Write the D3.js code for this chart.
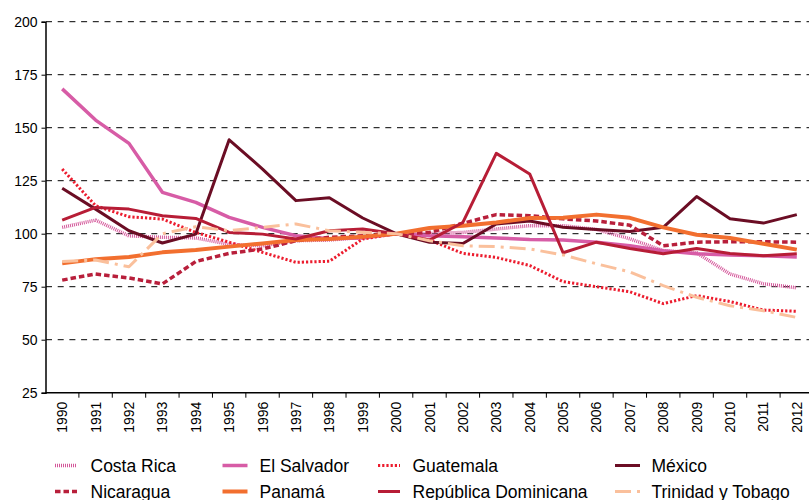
<!DOCTYPE html>
<html>
<head>
<meta charset="utf-8">
<script src="https://cdn.jsdelivr.net/npm/d3@7/dist/d3.min.js"></script>
<style>
  html, body { margin: 0; padding: 0; background: #fff; }
  svg { display: block; font-family: "Liberation Sans", Arial, sans-serif; }
</style>
</head>
<body>
<svg id="chart" width="809" height="500"></svg>
<script>
const years = ["1990","1991","1992","1993","1994","1995","1996","1997","1998","1999","2000","2001","2002","2003","2004","2005","2006","2007","2008","2009","2010","2011","2012"];
const yTicks = [25, 50, 75, 100, 125, 150, 175, 200];

const costaRica  = [103, 106.4, 99, 98.3, 98, 95, 94.3, 96.7, 97, 98.3, 100, 100.1, 100.6, 102.2, 103.8, 103.8, 102, 97.6, 92, 91, 81, 76.4, 74.5];
const elSalvador = [168.3, 153.6, 142.6, 119.5, 114.8, 107.7, 103, 99, 97.6, 98, 100, 99, 98.6, 98, 97.3, 97, 96, 94.3, 92, 90.5, 90, 89.6, 89];
const guatemala  = [130.5, 113.2, 108, 106.9, 100.6, 96, 91.2, 86.5, 87, 97.5, 100, 97, 90.7, 88.8, 85, 77.4, 75, 72.6, 67, 70.8, 68, 64, 63.4];
const mexico     = [121.4, 111.6, 101.4, 95.6, 99.8, 144.3, 130.5, 115.6, 117, 107.4, 100, 96, 95.4, 104.6, 106, 103, 102, 101, 103, 117.5, 107, 105, 109];
const nicaragua  = [78.1, 81, 79.1, 76.3, 86.9, 90.7, 92.8, 96.7, 98.3, 99, 100, 100.6, 104.9, 109, 108.5, 107, 106, 104, 94.3, 96, 96.2, 96.2, 96];
const panama     = [86, 88, 89, 91.2, 92.3, 93.9, 95.4, 97, 97.5, 98.6, 100, 102.7, 103.8, 105.3, 107.4, 107.5, 109, 107.5, 103, 99.5, 98, 95.3, 92.5];
const repDom     = [106.4, 112.4, 111.6, 108.5, 107.2, 100.6, 99.8, 97.5, 101.4, 102.2, 100, 97, 105.3, 137.9, 128.2, 91, 96, 93, 90.5, 93, 90.7, 89.6, 90.5];
const trinidad   = [86.9, 87.6, 84.4, 100, 103.3, 101.4, 103, 104.6, 101.4, 100.6, 100, 96.7, 94.3, 93.9, 92.8, 90, 85.8, 82, 75.5, 70, 66, 63.7, 60.5];

const seriesNames = ["Costa Rica","El Salvador","Guatemala","México","Nicaragua","Panamá","República Dominicana","Trinidad y Tobago"];
const seriesValues = [costaRica, elSalvador, guatemala, mexico, nicaragua, panama, repDom, trinidad];

const styles = {
  "Costa Rica":           {color: "#d4579a", width: 3.5, dash: "1,1",          cap: "butt"},
  "El Salvador":          {color: "#d75ca6", width: 3.5, dash: null,           cap: "butt"},
  "Guatemala":            {color: "#ec1c2e", width: 3,   dash: "2.2,2",        cap: "butt"},
  "México":               {color: "#6b0d24", width: 3,   dash: null,           cap: "butt"},
  "Nicaragua":            {color: "#b81f3b", width: 3.5, dash: "5.5,3",        cap: "butt"},
  "Panamá":               {color: "#f26f2f", width: 4,   dash: null,           cap: "butt"},
  "República Dominicana": {color: "#b71d36", width: 3,   dash: null,           cap: "butt"},
  "Trinidad y Tobago":    {color: "#fac09c", width: 3,   dash: "16,6,3,6",     cap: "butt"}
};

const svg = d3.select("#chart");
const x = d3.scaleBand().domain(years).range([45.5, 813.5]).padding(0);
const y = d3.scaleLinear().domain([25, 200]).range([392.7, 21.7]);

// gridlines
svg.append("g").selectAll("line").data(yTicks.filter(t => t > 25)).join("line")
  .attr("x1", 46).attr("x2", 809)
  .attr("y1", d => y(d)).attr("y2", d => y(d))
  .attr("stroke", "#000").attr("stroke-width", 1)
  .attr("stroke-dasharray", "6,5.7");

// y axis
const yAxis = svg.append("g").attr("transform", "translate(45.5,0)")
  .call(d3.axisLeft(y).tickValues(yTicks).tickSize(4).tickPadding(4));
yAxis.select(".domain").attr("stroke", "#000").attr("stroke-width", 1.5);
yAxis.selectAll(".tick line").attr("stroke", "#000");
yAxis.selectAll(".tick text").attr("font-size", 14).attr("fill", "#000")
  .attr("font-family", "'Liberation Sans', Arial, sans-serif");

// x axis with ticks at band boundaries
const xg = svg.append("g").attr("transform", `translate(0,${y(25)})`);
xg.append("line").attr("x1", 45.5).attr("x2", 809).attr("y1", 0).attr("y2", 0)
  .attr("stroke", "#000").attr("stroke-width", 1.5);
xg.selectAll("line.tk").data(years.slice(1)).join("line").attr("class", "tk")
  .attr("x1", d => x(d)).attr("x2", d => x(d)).attr("y1", 0).attr("y2", 5)
  .attr("stroke", "#000").attr("stroke-width", 1);
xg.selectAll("text").data(years).join("text")
  .attr("transform", d => `translate(${x(d) + x.bandwidth()/2 + 5},9) rotate(-90)`)
  .attr("text-anchor", "end")
  .attr("font-size", 14).attr("fill", "#000")
  .text(d => d);

// lines
const line = d3.line()
  .x((d, i) => x(years[i]) + x.bandwidth()/2)
  .y(d => y(d));

seriesNames.forEach((name, k) => {
  const s = styles[name];
  svg.append("path").datum(seriesValues[k])
    .attr("fill", "none")
    .attr("stroke", s.color)
    .attr("stroke-width", s.width)
    .attr("stroke-linejoin", "round")
    .attr("stroke-linecap", s.cap)
    .attr("stroke-dasharray", s.dash)
    .attr("d", line);
});

// legend
const legCols = [55, 222.5, 378, 615];
const legSymW = [22, 25, 22, 25];
const legTextX = [90.5, 259.5, 412.5, 651.5];
const legRows = [465.5, 491.5];
const leg = svg.append("g");
seriesNames.forEach((name, k) => {
  const c = k % 4, r = Math.floor(k / 4);
  const s = styles[name];
  leg.append("line")
    .attr("x1", legCols[c]).attr("x2", legCols[c] + legSymW[c])
    .attr("y1", legRows[r]).attr("y2", legRows[r])
    .attr("stroke", s.color).attr("stroke-width", s.width)
    .attr("stroke-dasharray", s.dash);
  leg.append("text")
    .attr("x", legTextX[c]).attr("y", legRows[r] + 6)
    .attr("font-size", 17.5).attr("fill", "#000")
    .text(name);
});
</script>
</body>
</html>
